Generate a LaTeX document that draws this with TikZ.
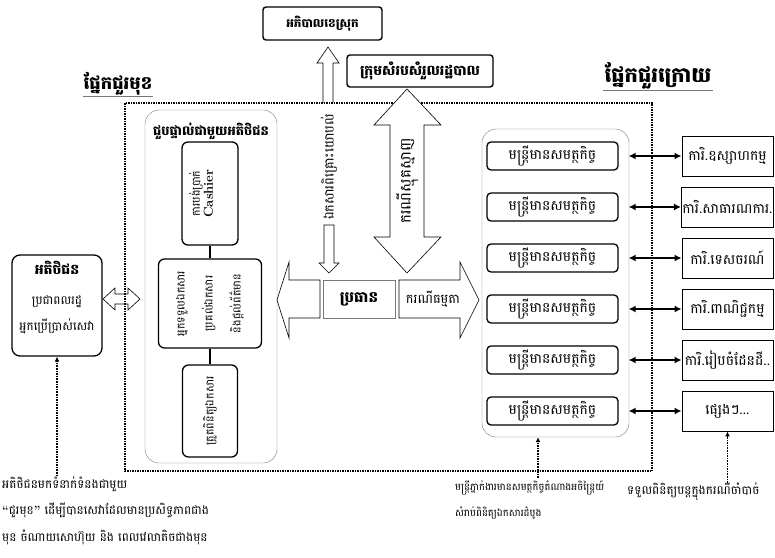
\documentclass[tikz,border=0pt]{standalone}
\usepackage{fontspec}
\newfontfamily\khmer[Script=Khmer]{Battambang}
\definecolor{frame-grey}{RGB}{120,120,120}
\usetikzlibrary{positioning,arrows.meta}

\begin{document}
\begin{tikzpicture}[x=1pt,y=-1pt,
    every node/.style={font=\khmer\fontsize{13}{15}\selectfont, inner sep=1pt},
    part-title/.style={font=\khmer\bfseries\fontsize{18}{21}\selectfont},
    head-box/.style={draw, line width=1.4pt, rounded corners=3pt, font=\khmer\bfseries\fontsize{12}{14}\selectfont},
    panel/.style={draw=frame-grey, rounded corners=14pt},
    desk-box/.style={draw, line width=1.3pt, rounded corners=6pt, rotate=90, align=center},
    officer/.style={draw, line width=1.3pt, rounded corners=4pt, minimum width=131pt, minimum height=28pt, font=\khmer\fontsize{14}{16}\selectfont},
    office/.style={draw, line width=0.9pt, minimum width=91pt, minimum height=40pt, font=\khmer\fontsize{14}{16}\selectfont},
    block/.style={draw, fill=white, line width=0.6pt},
    link/.style={line width=1.5pt, {Latex[length=7pt,width=7pt]}-{Latex[length=7pt,width=7pt]}},
    hint/.style={densely dotted, line width=1.6pt, -{Latex[length=5pt,width=5pt]}},
    note/.style={anchor=west, inner sep=0pt, font=\khmer\fontsize{12}{14}\selectfont}
  ]
    \useasboundingbox (0,0) rectangle (775,557);
    % front office frame
    \draw[densely dotted, line width=1.5pt] (125,103) rectangle (652,471);
    %
    \node[head-box, minimum width=119pt, minimum height=33pt] (gov) at (322.5,23.5) {អភិបាលខេស្រុក};
    \node[head-box, minimum width=146pt, minimum height=32pt, font=\khmer\bfseries\fontsize{14}{16}\selectfont] (coord) at (420,71) {ក្រុមសំរបសំរួលរដ្ឋបាល};
    \node[part-title] (front) at (118,84) {ផ្នែកជួរមុខ};
    \draw[frame-grey] (front.south west) -- (front.south east);
    \node[part-title, font=\khmer\bfseries\fontsize{21}{24}\selectfont] (back) at (658,76) {ផ្នែកជួរក្រោយ};
    \draw[frame-grey] (back.south west) -- (back.south east);
    %
    \node[draw, line width=1.3pt, rounded corners=8pt, minimum width=90pt, minimum height=101pt, align=center,
          font=\khmer\fontsize{12}{14}\selectfont] (client) at (57,305.5)
        {{\bfseries\fontsize{14}{16}\selectfont អតិថិជន}\\[16pt] ប្រជាពលរដ្ឋ\\[10pt] អ្នកប្រើប្រាស់សេវា\\[6pt]};
    \draw[line width=0.6pt] (103,299) -- (115,288) -- (115,294) -- (128,294) -- (128,288) -- (140,299)
        -- (128,310) -- (128,304) -- (115,304) -- (115,310) -- cycle;
    %
    \node[panel, minimum width=132pt, minimum height=353pt] (meet) at (211,286.5) {};
    \node[font=\khmer\bfseries\fontsize{13}{15}\selectfont, below=12pt of meet.north] (meet-title) {ជួបផ្ទាល់ជាមួយអតិថិជន};
    \node[desk-box, minimum width=103pt, minimum height=56pt] (cashier) at (210,193.5) {};
    \node[rotate=90, align=center, font=\khmer\fontsize{11}{13}\selectfont] (cashier-text) at (201,193.5)
        {ការបង់ប្រាក់\\{\rmfamily\bfseries\fontsize{13}{15}\selectfont Cashier}};
    \node[desk-box, minimum width=89pt, minimum height=103pt, font=\khmer\fontsize{11}{28}\selectfont] (desk) at (210,303.5)
        {អ្នកទទួលឯកសារ\\ប្រគល់ឯកសារ\\និងផ្តល់ព័ត៌មាន};
    \node[desk-box, minimum width=92pt, minimum height=55pt, font=\khmer\fontsize{11}{13}\selectfont] (check) at (210,411) {ត្រួតពិនិត្យឯកសារ};
    \draw[line width=1.3pt] (cashier) -- (desk);
    \draw[line width=1.3pt] (desk) -- (check);
    %
    \node[draw=frame-grey, minimum width=72pt, minimum height=38pt, font=\khmer\bfseries\fontsize{15}{17}\selectfont] (chief) at (359,299) {ប្រធាន};
    \draw[block] (277,300) -- (289,262) -- (289,280) -- (320,280) -- (320,318) -- (289,318) -- (289,338) -- cycle;
    \draw[block] (399,280) -- (460,280) -- (460,262) -- (479,300) -- (460,338) -- (460,318) -- (399,318) -- cycle;
    \node (normal) at (433,299) {ករណីធម្មតា};
    \draw[block] (324,225) -- (334,225) -- (334,263) -- (339,263) -- (329,273) -- (319,263) -- (324,263) -- cycle;
    \draw[line width=0.6pt] (323,103) -- (323,63) -- (317,63) -- (328,47) -- (339,63) -- (333,63) -- (333,103);
    \node[rotate=90] (consult) at (329,167) {ឯកសារពិគ្រោះយោបល់};
    \draw[block] (407,89) -- (441,125) -- (424,125) -- (424,237) -- (441,237) -- (407,273) -- (374,237)
        -- (390,237) -- (390,125) -- (374,125) -- cycle;
    \node[rotate=90, font=\khmer\fontsize{15}{17}\selectfont] (complex) at (407,181) {ករណីស្មុគស្មាញ};
    %
    \node[panel, minimum width=147pt, minimum height=308pt] (staff) at (555.5,283) {};
    \node[officer] (off1) at (552.5,156) {មន្ត្រីមានសមត្ថកិច្ច};
    \node[officer] (off2) at (552.5,207) {មន្ត្រីមានសមត្ថកិច្ច};
    \node[officer] (off3) at (552.5,258) {មន្ត្រីមានសមត្ថកិច្ច};
    \node[officer] (off4) at (552.5,309) {មន្ត្រីមានសមត្ថកិច្ច};
    \node[officer] (off5) at (552.5,360) {មន្ត្រីមានសមត្ថកិច្ច};
    \node[officer] (off6) at (552.5,411) {មន្ត្រីមានសមត្ថកិច្ច};
    \node[office] (dep1) at (727.5,156) {ការិ.ឧស្សាហកម្ម};
    \node[office] (dep2) at (727.5,207) {ការិ.សាធារណការ.};
    \node[office] (dep3) at (727.5,258) {ការិ.ទេសចរណ៍};
    \node[office] (dep4) at (727.5,309) {ការិ.ពាណិជ្ជកម្ម};
    \node[office] (dep5) at (727.5,360) {ការិ.រៀបចំដែនដី..};
    \node[office] (dep6) at (727.5,411) {ផ្សេងៗ...};
    \draw[link, shorten <=10pt] (off1) -- (dep1);
    \draw[link, shorten <=10pt] (off2) -- (dep2);
    \draw[link, shorten <=10pt] (off3) -- (dep3);
    \draw[link, shorten <=10pt] (off4) -- (dep4);
    \draw[link, shorten <=10pt] (off5) -- (dep5);
    \draw[link, shorten <=10pt] (off6) -- (dep6);
    %
    \node[note] (note-client) at (2,484) {អតិថិជនមកទំនាក់ទំនងជាមួយ};
    \node[note] (note-client2) at (2,510) {{\rmfamily\bfseries “}ជួរមុខ{\rmfamily\bfseries ”} ដើម្បីបានសេវាដែលមានប្រសិទ្ធភាពជាង};
    \node[note] (note-client3) at (2,537) {មុន ចំណាយសោហ៊ុយ និង ពេលវេលាតិចជាងមុន};
    \node[note, font=\khmer\fontsize{10}{12}\selectfont] (note-staff) at (455,488) {មន្ត្រីភ្នាក់ងារមានសមត្ថកិច្ចតំណាងអចិន្ត្រៃយ៍};
    \node[note, font=\khmer\fontsize{10}{12}\selectfont] (note-staff2) at (455,513) {សំរាប់ពិនិត្យឯកសារដំបូង};
    \node[note] (note-office) at (627,492) {ទទួលពិនិត្យបន្តក្នុងករណីចាំបាច់};
    \coordinate (staff-hint) at (538,478);
    \draw[hint] (note-client.north -| client.south) -- (client.south);
    \draw[hint] (staff-hint) -- (staff-hint |- staff.south);
    \draw[hint] (note-office.north -| dep6.south) -- (dep6.south);
\end{tikzpicture}
\end{document}
